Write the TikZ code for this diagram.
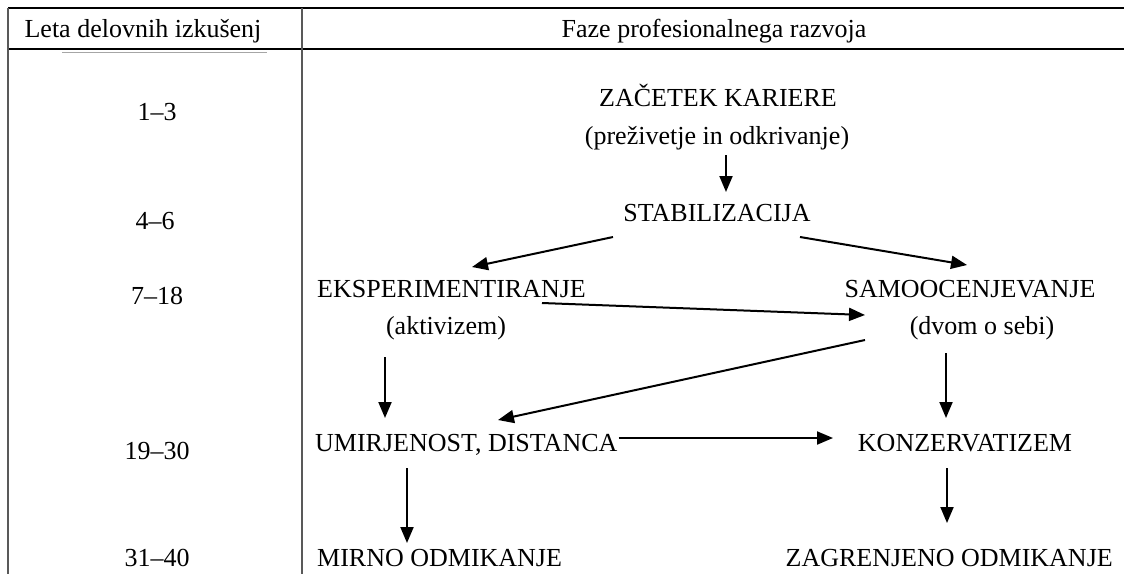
\documentclass[tikz,border=0pt]{standalone}
\usepackage{fontspec}
\setmainfont{Liberation Serif}
\usetikzlibrary{arrows.meta}
\begin{document}
\begin{tikzpicture}[x=1pt,y=-1pt,
  lbl/.style={inner sep=0pt,anchor=base,font=\fontsize{26}{30}\selectfont},
  conn/.style={line width=2pt,-{Triangle[length=16pt,width=13pt]}},
  toprule/.style={line width=2.2pt},
  midrule/.style={line width=2.8pt},
  vrule/.style={line width=1.4pt,black!65}]
\useasboundingbox (0,0) rectangle (1124,574);
% table
\draw[toprule] (8,8) -- (1124,8);
\draw[midrule] (8,49) -- (1124,49);
\draw[line width=0.8pt,black!35] (62,52.5) -- (267,52.5);
\draw[vrule] (8,8) -- (8,574);
\draw[vrule] (302,8) -- (302,574);
\node[lbl] (h1) at (143,37) {Leta delovnih izkušenj};
\node[lbl] (h2) at (714,37) {Faze profesionalnega razvoja};
% years
\node[lbl] (y1) at (157,120) {1--3};
\node[lbl] (y2) at (155,229) {4--6};
\node[lbl] (y3) at (157,304) {7--18};
\node[lbl] (y4) at (157,459) {19--30};
\node[lbl] (y5) at (157,566) {31--40};
% phases
\node[lbl] (zk) at (718,106) {ZAČETEK KARIERE};
\node[lbl] (pz) at (717,144) {(preživetje in odkrivanje)};
\node[lbl] (st) at (717,221) {STABILIZACIJA};
\node[lbl,anchor=base west] (ek) at (317,297) {EKSPERIMENTIRANJE};
\node[lbl] (ak) at (446,334) {(aktivizem)};
\node[lbl] (sa) at (970,297) {SAMOOCENJEVANJE};
\node[lbl] (dv) at (982,334) {(dvom o sebi)};
\node[lbl,anchor=base west] (um) at (315,451) {UMIRJENOST, DISTANCA};
\node[lbl] (ko) at (965,451) {KONZERVATIZEM};
\node[lbl,anchor=base west] (mi) at (317,566) {MIRNO ODMIKANJE};
\node[lbl,anchor=base east] (za) at (1113,566) {ZAGRENJENO ODMIKANJE};
% connector ends
\coordinate (a1) at (726,155); \coordinate (a2) at (726,192);
\coordinate (b1) at (613,237); \coordinate (b2) at (472,267);
\coordinate (c1) at (800,237); \coordinate (c2) at (967,265);
\coordinate (d1) at (542,303); \coordinate (d2) at (865,315);
\coordinate (e1) at (865,340); \coordinate (e2) at (498,420);
\coordinate (f1) at (385,357); \coordinate (f2) at (385,418);
\coordinate (g1) at (946,353); \coordinate (g2) at (946,418);
\coordinate (h2e) at (833,438);
\coordinate (i1) at (407,468); \coordinate (i2) at (407,543);
\coordinate (j1) at (947,468); \coordinate (j2) at (947,523);
\draw[conn] (a1) -- (a2);
\draw[conn] (b1) -- (b2);
\draw[conn] (c1) -- (c2);
\draw[conn] (d1) -- (d2);
\draw[conn] (e1) -- (e2);
\draw[conn] (f1) -- (f2);
\draw[conn] (g1) -- (g2);
\draw[conn] ([xshift=1pt,yshift=13pt]um.base east) -- (h2e);
\draw[conn] (i1) -- (i2);
\draw[conn] (j1) -- (j2);
\end{tikzpicture}
\end{document}
